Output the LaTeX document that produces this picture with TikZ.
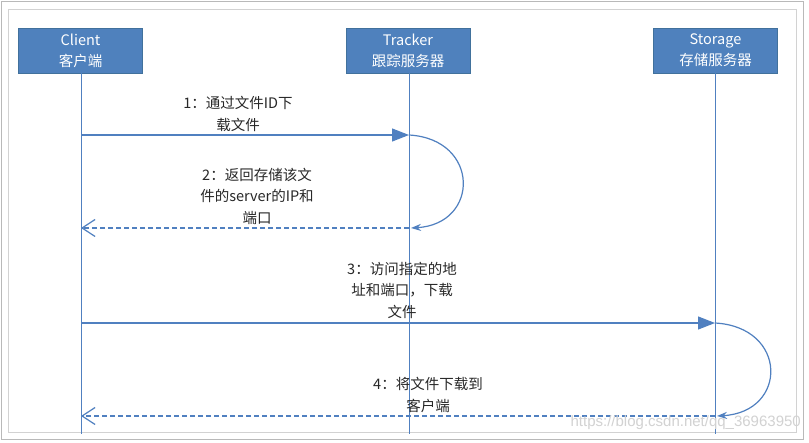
\documentclass[tikz,border=0pt]{standalone}
\usepackage{fontspec}
\setmainfont{Noto Sans CJK SC}
\newfontfamily\wmfont{Liberation Sans}
\usetikzlibrary{arrows.meta}
\definecolor{boxblue}{HTML}{4F81BD}
\definecolor{boxedge}{HTML}{41719C}
\definecolor{lineblue}{HTML}{5080C0}
\definecolor{labelgray}{HTML}{282828}
\tikzset{
  actorbox/.style={draw=boxedge, line width=0.8pt, fill=boxblue, text=white, minimum width=124pt, minimum height=45pt, inner sep=0pt, align=center, font=\fontsize{14.5}{21}\selectfont},
  lifeline/.style={draw=lineblue, line width=1pt},
  callmsg/.style={draw=lineblue, line width=1.2pt, -{Triangle[length=17pt,width=13pt]}},
  selfcall/.style={draw=lineblue, line width=1.2pt, -{Stealth[length=10pt,width=7pt]}},
  returnmsg/.style={draw=lineblue, line width=1.2pt, dash pattern=on 5pt off 3pt, -{Straight Barb[length=13pt,width=17pt,line width=1.2pt]}},
  msglabel/.style={text=labelgray, align=center, inner sep=0pt, font=\fontsize{14.5}{21.5}\selectfont},
}
\begin{document}
\begin{tikzpicture}[x=1pt,y=-1pt]
\useasboundingbox (0,0) rectangle (809,443);
\fill[white] (0,0) rectangle (809,443);
% frames
\draw[gray!55, line width=1pt] (1,2) rectangle (803,440);
\draw[gray!35, line width=1pt] (8,10) rectangle (796,433);
% actors
\node[actorbox] (client) at (80.5,50.5) {Client\\客户端};
\node[actorbox] (tracker) at (408,50.5) {Tracker\\跟踪服务器};
\node[actorbox] (storage) at (715.5,50.5) {Storage\\存储服务器};
% lifeline ends
\coordinate (cend) at (81,434);
\coordinate (tend) at (409,434);
\coordinate (send) at (715,434);
\draw[lifeline] (client.south -| cend) -- (cend);
\draw[lifeline] (tracker.south -| tend) -- (tend);
\draw[lifeline] (storage.south -| send) -- (send);
% message points
\coordinate (c1) at (81,135);
\coordinate (t1) at (409,135);
\coordinate (t2) at (411,228);
\coordinate (c2) at (81,228);
\coordinate (c3) at (81,323);
\coordinate (s3) at (715,323);
\coordinate (s4) at (717,416);
\coordinate (c4) at (81,416);
% messages
\draw[callmsg] (c1) -- (t1);
\draw[selfcall] (t1) .. controls (480,139) and (480,224) .. (t2);
\draw[returnmsg] (tend |- t2) -- (c2);
\draw[callmsg] (c3) -- (s3);
\draw[selfcall] (s3) .. controls (788,327) and (788,412) .. (s4);
\draw[returnmsg] (send |- s4) -- (c4);
% labels
\node[msglabel] (l1) at (238,114) {1：通过文件ID下\\载文件};
\node[msglabel] (l2) at (257,196) {2：返回存储该文\\件的server的IP和\\端口};
\node[msglabel] (l3) at (402,290) {3：访问指定的地\\址和端口，下载\\文件};
\node[msglabel] (l4) at (428,395) {4：将文件下载到\\客户端};
% watermark
\node[text=gray!35, inner sep=0pt, font=\wmfont\fontsize{15}{17}\selectfont, anchor=east] (wm) at (801,423) {https://blog.csdn.net/qq\_36963950};
\end{tikzpicture}
\end{document}
